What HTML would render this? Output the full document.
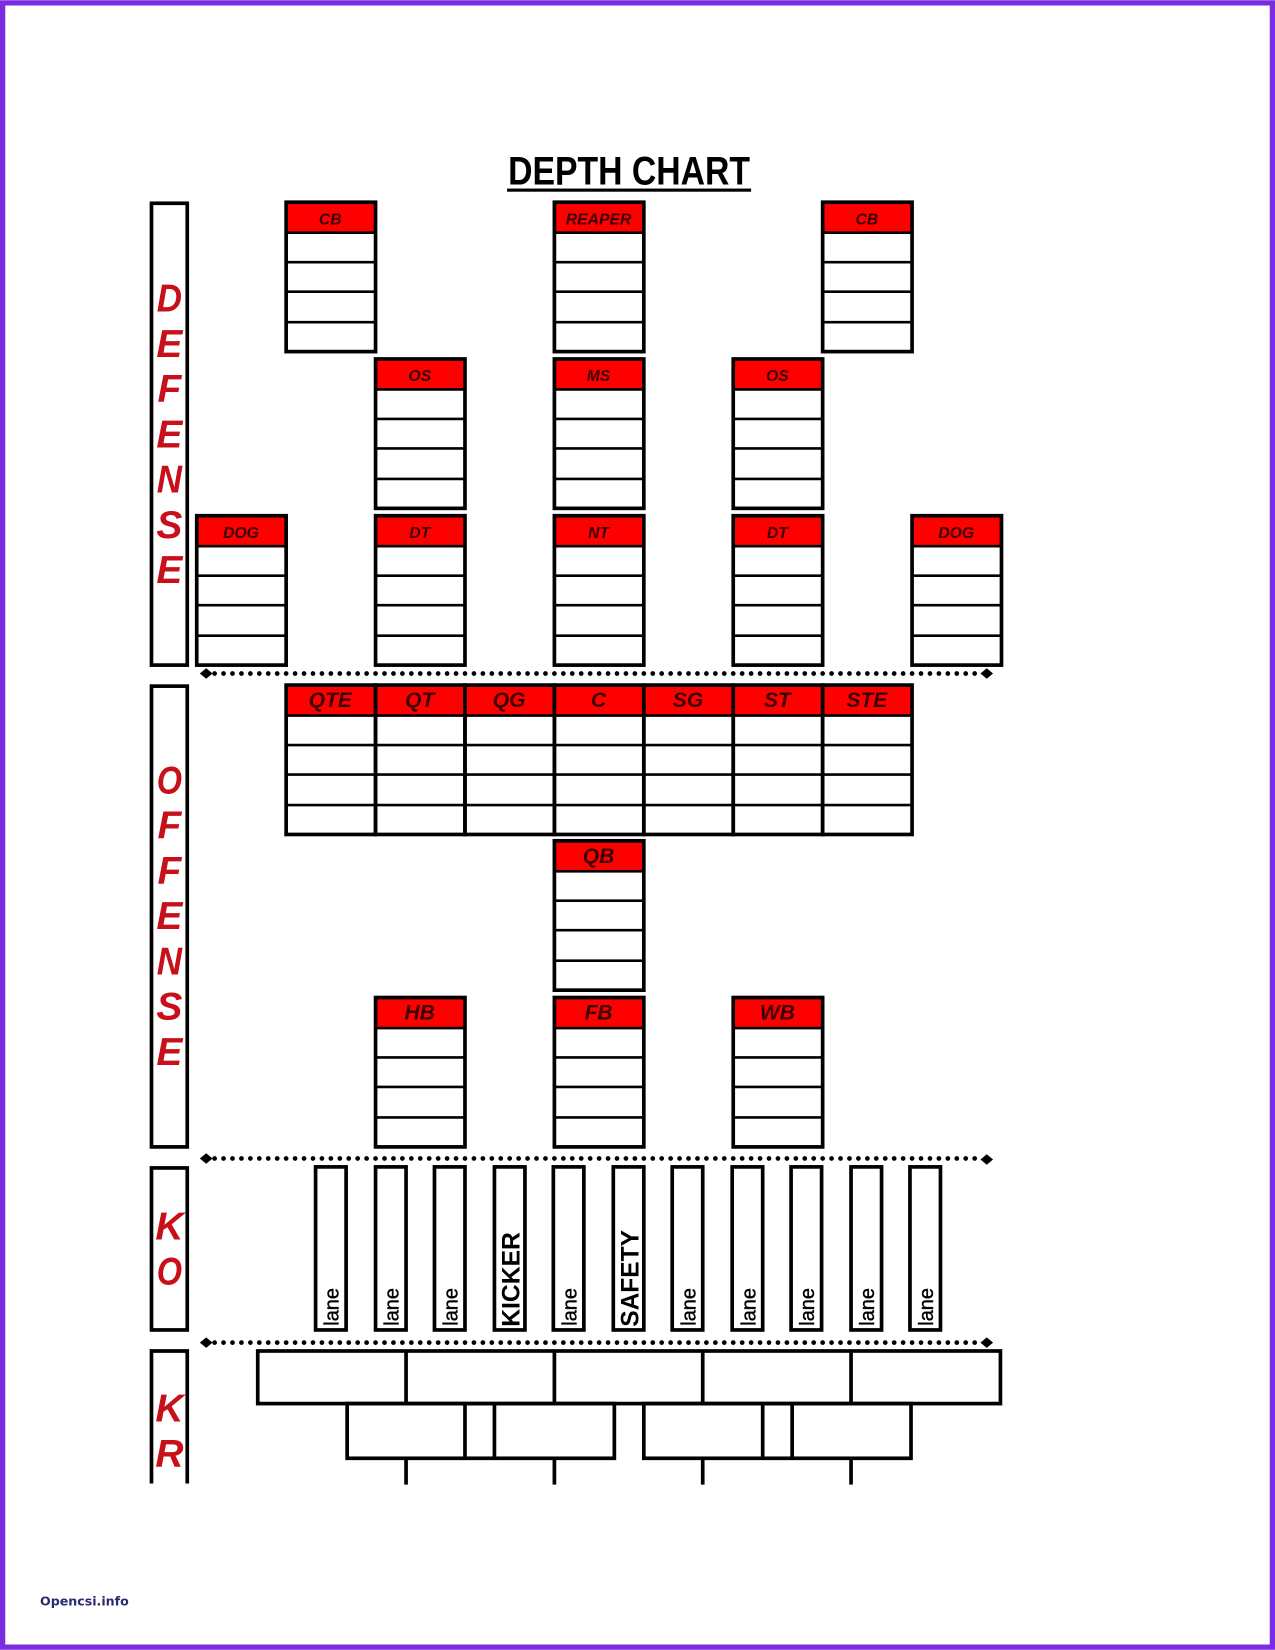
<!DOCTYPE html>
<html><head><meta charset="utf-8"><style>
html,body{margin:0;padding:0;background:#fff;}
svg{display:block;}
.lbl{font-family:"Liberation Sans",sans-serif;font-weight:bold;font-style:italic;fill:#c8101a;font-size:37px;text-anchor:middle;}
.h{font-family:"Liberation Sans",sans-serif;font-weight:bold;font-style:italic;fill:#3a0000;text-anchor:middle;}
.ln{font-family:"Liberation Sans",sans-serif;fill:#000;}
</style></head><body>
<svg width="1275" height="1650" viewBox="0 0 1212 1568" xmlns="http://www.w3.org/2000/svg">
<defs>
<g id="bx">
<rect x="0" y="0" width="85" height="29" fill="#f00"/>
<rect x="0" y="0" width="85" height="142" fill="none" stroke="#000" stroke-width="3.5"/>
<path d="M0 29H85M0 57H85M0 85H85M0 114H85" stroke="#000" stroke-width="2.5"/>
</g>
<g id="ln"><rect x="0" y="0" width="29" height="155" fill="#fff" stroke="#000" stroke-width="3.5"/></g>
</defs>
<rect x="2.5" y="2.5" width="1207" height="1563" fill="#fff" stroke="#7b2be0" stroke-width="5"/>

<text x="598" y="175" font-family="Liberation Sans Narrow, Liberation Sans, DejaVu Sans Condensed, sans-serif" font-weight="bold" font-size="38" text-anchor="middle" textLength="230" lengthAdjust="spacingAndGlyphs">DEPTH CHART</text>
<rect x="482" y="179" width="232" height="3" fill="#000"/>

<g fill="none" stroke="#000" stroke-width="3.5">
<rect x="144" y="193" width="34" height="439"/>
<rect x="144" y="652" width="34" height="438"/>
<rect x="144" y="1110" width="34" height="154"/>
<path d="M144 1410V1284H178V1410"/>
</g>
<g class="lbl">
<text x="161" y="296" textLength="24" lengthAdjust="spacingAndGlyphs">D</text><text x="161" y="339">E</text><text x="161" y="382">F</text><text x="161" y="425">E</text><text x="161" y="468" textLength="24" lengthAdjust="spacingAndGlyphs">N</text><text x="161" y="511">S</text><text x="161" y="554">E</text>
<text x="161" y="754" textLength="24" lengthAdjust="spacingAndGlyphs">O</text><text x="161" y="797">F</text><text x="161" y="840">F</text><text x="161" y="883">E</text><text x="161" y="926" textLength="24" lengthAdjust="spacingAndGlyphs">N</text><text x="161" y="969">S</text><text x="161" y="1012">E</text>
<text x="161" y="1178">K</text><text x="161" y="1221" textLength="24" lengthAdjust="spacingAndGlyphs">O</text>
<text x="161" y="1351">K</text><text x="161" y="1394">R</text>
</g>

<use href="#bx" x="272" y="192"/><use href="#bx" x="527" y="192"/><use href="#bx" x="782" y="192"/>
<use href="#bx" x="357" y="341"/><use href="#bx" x="527" y="341"/><use href="#bx" x="697" y="341"/>
<use href="#bx" x="187" y="490"/><use href="#bx" x="357" y="490"/><use href="#bx" x="527" y="490"/><use href="#bx" x="697" y="490"/><use href="#bx" x="867" y="490"/>
<g class="h" font-size="15">
<text x="314" y="213">CB</text><text x="569" y="213">REAPER</text><text x="824" y="213">CB</text>
<text x="399" y="362">OS</text><text x="569" y="362">MS</text><text x="739" y="362">OS</text>
<text x="229" y="511">DOG</text><text x="399" y="511">DT</text><text x="569" y="511">NT</text><text x="739" y="511">DT</text><text x="909" y="511">DOG</text>
</g>

<use href="#bx" x="272" y="651"/><use href="#bx" x="357" y="651"/><use href="#bx" x="442" y="651"/><use href="#bx" x="527" y="651"/><use href="#bx" x="612" y="651"/><use href="#bx" x="697" y="651"/><use href="#bx" x="782" y="651"/>
<use href="#bx" x="527" y="799"/>
<use href="#bx" x="357" y="948"/><use href="#bx" x="527" y="948"/><use href="#bx" x="697" y="948"/>
<g class="h" font-size="20">
<text x="314" y="672">QTE</text><text x="399" y="672">QT</text><text x="484" y="672">QG</text><text x="569" y="672">C</text><text x="654" y="672">SG</text><text x="739" y="672">ST</text><text x="824" y="672">STE</text>
<text x="569" y="820">QB</text>
<text x="399" y="969">HB</text><text x="569" y="969">FB</text><text x="739" y="969">WB</text>
</g>

<g stroke="#000" stroke-width="4.5" stroke-linecap="round" stroke-dasharray="0 8.5">
<path d="M204 640H934"/><path d="M204 1101H934"/><path d="M204 1276H934"/>
</g>
<g fill="#000">
<path d="M190 640l6-5 6 5-6 5z"/><path d="M932 640l6-5 6 5-6 5z"/>
<path d="M190 1101l6-5 6 5-6 5z"/><path d="M932 1102l6-5 6 5-6 5z"/>
<path d="M190 1276l6-5 6 5-6 5z"/><path d="M932 1276l6-5 6 5-6 5z"/>
</g>

<use href="#ln" x="300" y="1109"/><use href="#ln" x="357" y="1109"/><use href="#ln" x="413" y="1109"/><use href="#ln" x="470" y="1109"/><use href="#ln" x="526" y="1109"/><use href="#ln" x="583" y="1109"/><use href="#ln" x="639" y="1109"/><use href="#ln" x="696" y="1109"/><use href="#ln" x="752" y="1109"/><use href="#ln" x="809" y="1109"/><use href="#ln" x="865" y="1109"/>
<g class="ln" font-size="19" stroke="#000" stroke-width="0.4">
<text transform="translate(322,1260) rotate(-90)">lane</text>
<text transform="translate(379,1260) rotate(-90)">lane</text>
<text transform="translate(435,1260) rotate(-90)">lane</text>
<text transform="translate(548,1260) rotate(-90)">lane</text>
<text transform="translate(661,1260) rotate(-90)">lane</text>
<text transform="translate(718,1260) rotate(-90)">lane</text>
<text transform="translate(774,1260) rotate(-90)">lane</text>
<text transform="translate(831,1260) rotate(-90)">lane</text>
<text transform="translate(887,1260) rotate(-90)">lane</text>
</g>
<g class="ln" font-size="24" font-weight="bold">
<text transform="translate(494,1261) rotate(-90)" textLength="90" lengthAdjust="spacingAndGlyphs">KICKER</text>
<text transform="translate(607,1261) rotate(-90)" textLength="92" lengthAdjust="spacingAndGlyphs">SAFETY</text>
</g>

<g fill="none" stroke="#000" stroke-width="3.5">
<rect x="245" y="1284" width="706" height="50"/>
<path d="M386 1284V1334M527 1284V1334M668 1284V1334M809 1284V1334"/>
<rect x="330" y="1334" width="254" height="52"/>
<path d="M442 1334V1386M470 1334V1386"/>
<rect x="612" y="1334" width="254" height="52"/>
<path d="M725 1334V1386M753 1334V1386"/>
<path d="M386 1386V1411M527 1386V1411M668 1386V1411M809 1386V1411"/>
</g>

<text x="38" y="1526" font-family="DejaVu Sans, Liberation Sans, sans-serif" font-weight="bold" font-size="12" fill="#2a2a70">Opencsi.info</text>
</svg>
</body></html>
